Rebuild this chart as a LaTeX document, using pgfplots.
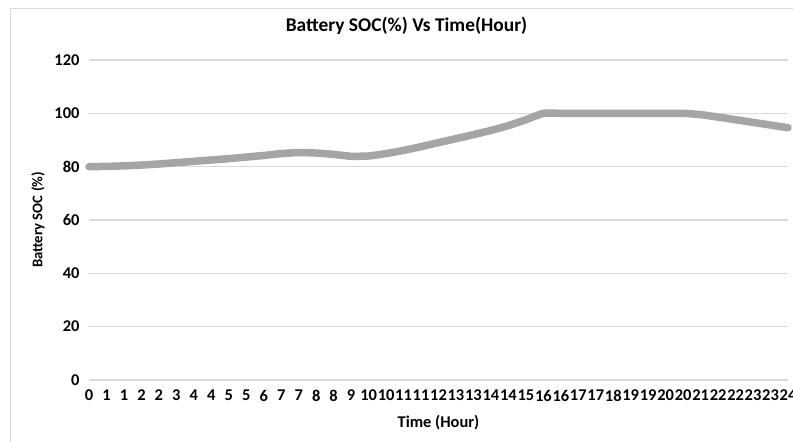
\documentclass[border=0pt]{standalone}
\usepackage{fontspec}
\setmainfont{Carlito}
\usepackage{pgfplots}
\pgfplotsset{compat=1.18}
\definecolor{linegray}{HTML}{A5A5A5}
\definecolor{gridgray}{HTML}{D9D9D9}
\begin{document}
\begin{tikzpicture}[x=1bp,y=1bp]
\path[use as bounding box] (0,0) rectangle (793,442);
\draw[gridgray, line width=1bp] (10,-1) -- (10,433) -- (800,433);
\begin{axis}[
  at={(89bp,62bp)}, anchor=south west,
  scale only axis, width=699bp, height=320bp,
  xmin=0, xmax=40, ymin=0, ymax=120,
  ytick={0,20,40,60,80,100,120},
  xtick={0,...,40},
  xticklabels={0,1,1,2,2,3,4,4,5,5,6,7,7,8,8,9,10,10,11,11,12,13,13,14,14,15,16,16,17,17,18,19,19,20,20,21,22,22,23,23,24},
  axis line style={draw=none},
  major tick length=0pt,
  ymajorgrids,
  grid style={gridgray, line width=1.2bp},
  clip=false,
  /pgf/number format/assume math mode=true,
  ticklabel style={font=\bfseries\fontsize{16.5}{18}\selectfont},
  xticklabel style={yshift=-9bp, inner sep=1bp},
  yticklabel style={xshift=-6bp},
  title={Battery SOC(\%) Vs Time(Hour)},
  title style={at={(rel axis cs:0.5,1)}, anchor=center, yshift=28bp, xshift=-32bp, font=\bfseries\fontsize{19.5}{22}\selectfont},
  xlabel={Time (Hour)},
  xlabel style={at={(rel axis cs:0.5,0)}, anchor=center, yshift=-43bp, font=\bfseries\fontsize{16.5}{18}\selectfont},
  ylabel={Battery SOC (\%)},
  ylabel style={at={(axis description cs:-0.073,0.5)}, anchor=center, font=\bfseries\fontsize{14.8}{17}\selectfont},
]
\addplot[linegray, line width=7.5bp, line cap=round, line join=round, smooth, tension=0.3] coordinates {
(0,80) (1,80.1) (2,80.3) (3,80.6) (4,81.0) (5,81.5) (6,82.0) (7,82.5) (8,83.0) (9,83.6)
(10,84.2) (11,84.9) (12,85.3) (13,85.1) (14,84.6) (15,83.9) (16,84.0) (17,84.9) (18,86.1) (19,87.5)
(20,89.0) (21,90.5) (22,92.0) (23,93.6) (24,95.4) (25,97.6) (26,100) (27,100) (28,100) (29,100)
(30,100) (31,100) (32,100) (33,100) (34,100) (35,99.5) (36,98.6) (37,97.6) (38,96.6) (39,95.6)
(40,94.6)
};
\end{axis}
\end{tikzpicture}
\end{document}
